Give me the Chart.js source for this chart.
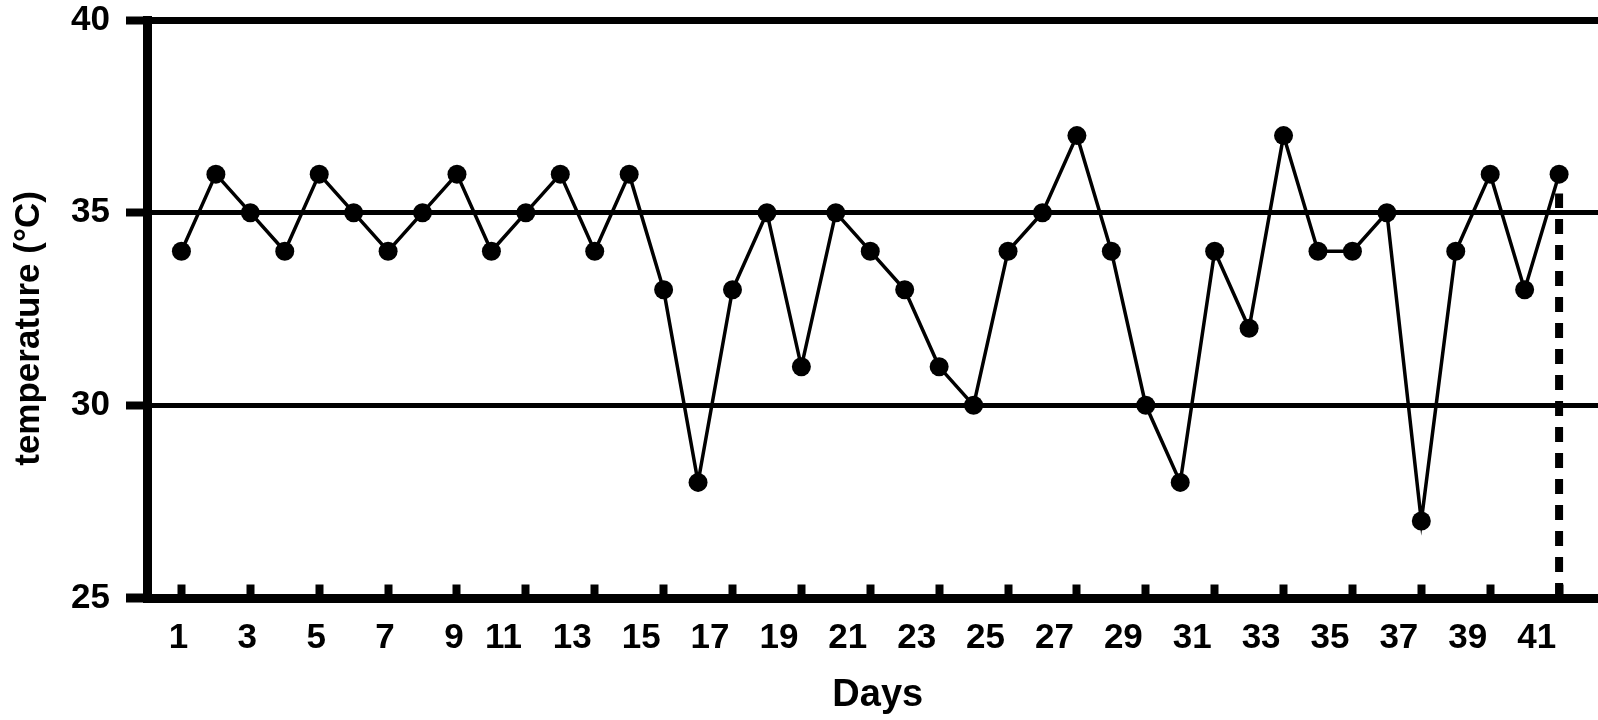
<!DOCTYPE html>
<html>
<head>
<meta charset="utf-8">
<script src="https://cdn.jsdelivr.net/npm/chart.js@4.4.1/dist/chart.umd.min.js"></script>
<style>
  html, body { margin: 0; padding: 0; background: #ffffff; }
  #wrap { width: 1598px; height: 720px; }
</style>
</head>
<body>
<div id="wrap"><canvas id="c" width="1598" height="720"></canvas></div>
<script>
// ---- data ----
const days = [1,2,3,4,5,6,7,8,9,10,11,12,13,14,15,16,17,18,19,20,21,22,23,24,25,26,27,28,29,30,31,32,33,34,35,36,37,38,39,40,41];
const temperature = [34,36,35,34,36,35,34,35,36,34,35,36,34,36,33,28,33,35,31,35,34,33,31,30,34,35,37,34,30,28,34,32,37,34,34,35,27,34,36,33,36];
const xTickValues = [1,3,5,7,9,11,13,15,17,19,21,23,25,27,29,31,33,35,37,39,41];
const xTickLabels = ['1','3','5','7','9','11','13','15','17','19','21','23','25','27','29','31','33','35','37','39','41'];
const yTickValues = [25,30,35,40];
const yTickLabels = ['25','30','35','40'];
const cutoffDay = 41;
const cutoffRange = [25, 35.5];

const FONT = '"Liberation Sans", Arial, Helvetica, sans-serif';

const mainPoints = days.map((d, i) => ({ x: d, y: temperature[i] }));
const cutoffPoints = cutoffRange.map(v => ({ x: cutoffDay, y: v }));

new Chart(document.getElementById('c'), {
  type: 'line',
  data: {
    datasets: [
      {
        data: cutoffPoints,
        borderColor: '#000',
        borderWidth: 8,
        borderDash: [15, 11],
        pointRadius: 0,
        fill: false,
        clip: false
      },
      {
        data: mainPoints,
        borderColor: '#000',
        borderWidth: 3.5,
        pointRadius: 9.5,
        pointBorderWidth: 0,
        pointBackgroundColor: '#000',
        pointHoverRadius: 9.5,
        tension: 0,
        fill: false,
        clip: false
      }
    ]
  },
  options: {
    responsive: false,
    animation: false,
    events: [],
    layout: { autoPadding: false, padding: { top: 20, left: 0, right: 0, bottom: 0 } },
    plugins: { legend: { display: false }, tooltip: { enabled: false } },
    scales: {
      x: {
        type: 'linear',
        min: 0,
        max: 42.13,
        afterBuildTicks: s => { s.ticks = xTickValues.map(v => ({ value: v })); },
        afterFit: s => { s.height = 122; s.paddingLeft = 0; s.paddingRight = 0; },
        border: { display: true, color: '#000', width: 9 },
        grid: {
          display: true,
          drawOnChartArea: false,
          drawTicks: true,
          tickLength: -13.5,
          tickWidth: 8,
          tickColor: '#000',
          lineWidth: 1,
          color: '#000'
        },
        ticks: {
          autoSkip: false,
          maxRotation: 0,
          padding: 36,
          labelOffset: -3,
          color: '#000',
          font: { family: FONT, size: 35, weight: 'bold', lineHeight: 1 },
          callback: (v, i) => {
            const t = xTickLabels[i];
            return t.length > 1 ? t + '    ' : t;
          }
        },
        title: {
          display: true,
          text: ' Days',
          color: '#000',
          font: { family: FONT, size: 38, weight: 'bold', lineHeight: 1 },
          padding: { top: 0, bottom: 5 }
        }
      },
      y: {
        type: 'linear',
        min: 25,
        max: 40,
        afterBuildTicks: s => { s.ticks = yTickValues.map(v => ({ value: v })); },
        afterFit: s => { s.width = 147; s.paddingTop = 0; s.paddingBottom = 0; },
        border: { display: true, color: '#000', width: 9 },
        grid: {
          display: true,
          drawOnChartArea: true,
          drawTicks: true,
          tickLength: 21,
          color: '#000',
          tickColor: '#000',
          lineWidth: ctx => ctx.tick && ctx.tick.value === 40 ? 7 : (ctx.tick && ctx.tick.value === 25 ? 0 : 5),
          tickWidth: ctx => ctx.tick && ctx.tick.value === 25 ? 9 : 8
        },
        ticks: {
          padding: 16,
          color: '#000',
          font: { family: FONT, size: 35, weight: 'bold', lineHeight: 1 },
          callback: (v, i) => yTickLabels[i]
        },
        title: {
          display: true,
          text: 'temperature (°C)    ',
          color: '#000',
          font: { family: FONT, size: 35, weight: 'bold', lineHeight: 1 },
          padding: { top: 12, bottom: 0 }
        }
      }
    }
  }
});
</script>
</body>
</html>
